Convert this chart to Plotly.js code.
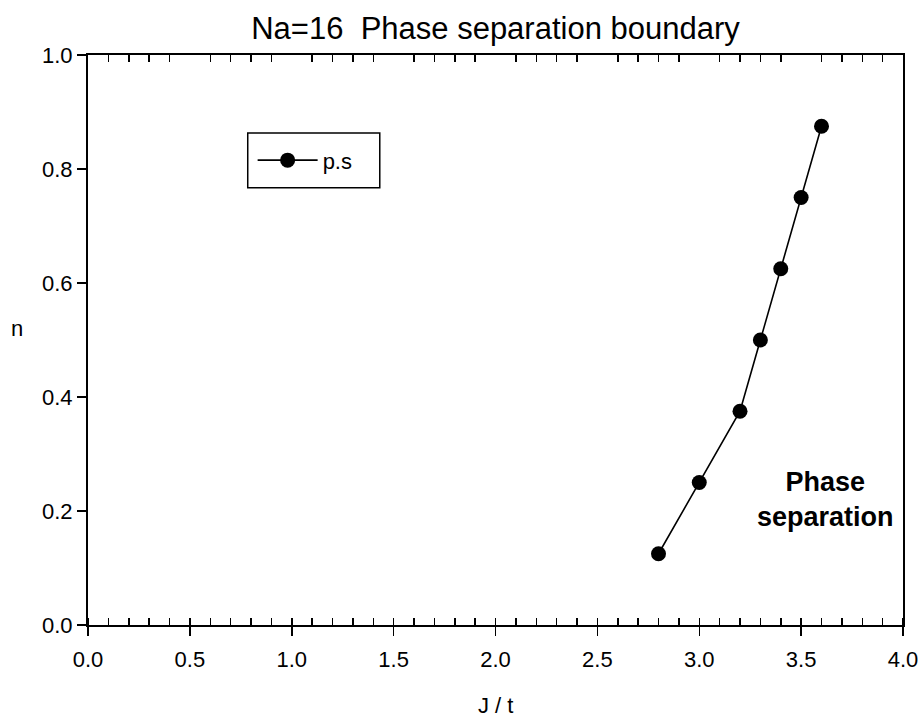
<!DOCTYPE html>
<html>
<head>
<meta charset="utf-8">
<script src="https://cdn.plot.ly/plotly-3.0.1.min.js"></script>
<style>
  html, body { margin: 0; padding: 0; background: #fff; }
  #chart { width: 921px; height: 719px; }
</style>
</head>
<body>
<div id="chart"></div>
<script>
// Phase separation boundary for Na=16
const jOverT = [2.8, 3.0, 3.2, 3.3, 3.4, 3.5, 3.6];
const density = [0.125, 0.25, 0.375, 0.5, 0.625, 0.75, 0.875];
const seriesName = 'p.s';

const FONT = 'Liberation Sans, Arial, sans-serif';

const traces = [
  {
    x: jOverT, y: density, name: seriesName,
    type: 'scatter', mode: 'lines+markers',
    line: { color: '#000', width: 1.6 },
    marker: { color: '#000', size: 15, symbol: 'circle' },
    xaxis: 'x', yaxis: 'y'
  },
  {
    // carries the top axis (minor ticks only)
    x: jOverT, y: density, xaxis: 'x2', yaxis: 'y',
    type: 'scatter', mode: 'markers', showlegend: false,
    hoverinfo: 'skip', marker: { opacity: 0 }
  }
];

const layout = {
  width: 921, height: 719,
  margin: { l: 88, r: 18, t: 55, b: 94 },
  paper_bgcolor: '#fff', plot_bgcolor: '#fff',
  font: { family: FONT, color: '#000', size: 22 },
  title: {
    text: 'Na=16  Phase separation boundary',
    font: { family: FONT, size: 31, color: '#000' },
    x: 0.5, xref: 'paper', xanchor: 'center',
    y: 1, yref: 'paper', yanchor: 'bottom', pad: { b: 16 }
  },
  xaxis: {
    range: [0, 4], dtick: 0.5, tick0: 0, tickformat: '.1f',
    showgrid: false, zeroline: false,
    showline: true, linecolor: '#000', linewidth: 2,
    ticks: 'outside', ticklen: 9, tickwidth: 1.5, tickcolor: '#000',
    ticklabelstandoff: 5,
    minor: { ticks: 'inside', dtick: 0.1, ticklen: 7, tickwidth: 1.5, tickcolor: '#000', showgrid: false },
    tickfont: { family: FONT, size: 22 }
  },
  xaxis2: {
    overlaying: 'x', side: 'top', anchor: 'y',
    range: [0, 4], dtick: 0.5, tick0: 0,
    showgrid: false, zeroline: false, showticklabels: false,
    showline: true, linecolor: '#000', linewidth: 2,
    ticks: '',
    minor: { ticks: 'inside', dtick: 0.1, ticklen: 7, tickwidth: 1.5, tickcolor: '#000', showgrid: false }
  },
  yaxis: {
    range: [0, 1], dtick: 0.2, tick0: 0, tickformat: '.1f',
    showgrid: false, zeroline: false,
    showline: true, linecolor: '#000', linewidth: 2,
    mirror: true,
    ticks: 'outside', ticklen: 9, tickwidth: 1.5, tickcolor: '#000',
    tickfont: { family: FONT, size: 22 }
  },
  showlegend: true,
  legend: {
    x: 0.202, y: 0.852, xanchor: 'left', yanchor: 'top',
    bgcolor: 'rgba(0,0,0,0)', borderwidth: 0,
    font: { family: FONT, size: 22 },
    itemwidth: 60
  },
  shapes: [
    {
      // legend frame
      type: 'rect', xref: 'paper', yref: 'paper',
      x0: 0.196, x1: 0.358, y0: 0.767, y1: 0.863,
      line: { color: '#000', width: 1.5 }, fillcolor: 'rgba(0,0,0,0)', layer: 'above'
    }
  ],
  annotations: [
    {
      // x-axis title
      text: 'J / t', xref: 'paper', yref: 'paper',
      x: 0.5, y: -0.142, xanchor: 'center', yanchor: 'middle',
      showarrow: false, font: { family: FONT, size: 22 }
    },
    {
      // y-axis title, upright
      text: 'n', xref: 'paper', yref: 'paper',
      x: -0.097, y: 0.52, xanchor: 'left', yanchor: 'middle',
      showarrow: false, font: { family: FONT, size: 22 }
    },
    {
      text: '<b>Phase<br>separation</b>', xref: 'x', yref: 'y',
      x: 3.62, y: 0.22, xanchor: 'center', yanchor: 'middle',
      showarrow: false, align: 'center',
      font: { family: FONT, size: 27 }
    }
  ]
};

Plotly.newPlot('chart', traces, layout, { displayModeBar: false, staticPlot: true });
</script>
</body>
</html>
